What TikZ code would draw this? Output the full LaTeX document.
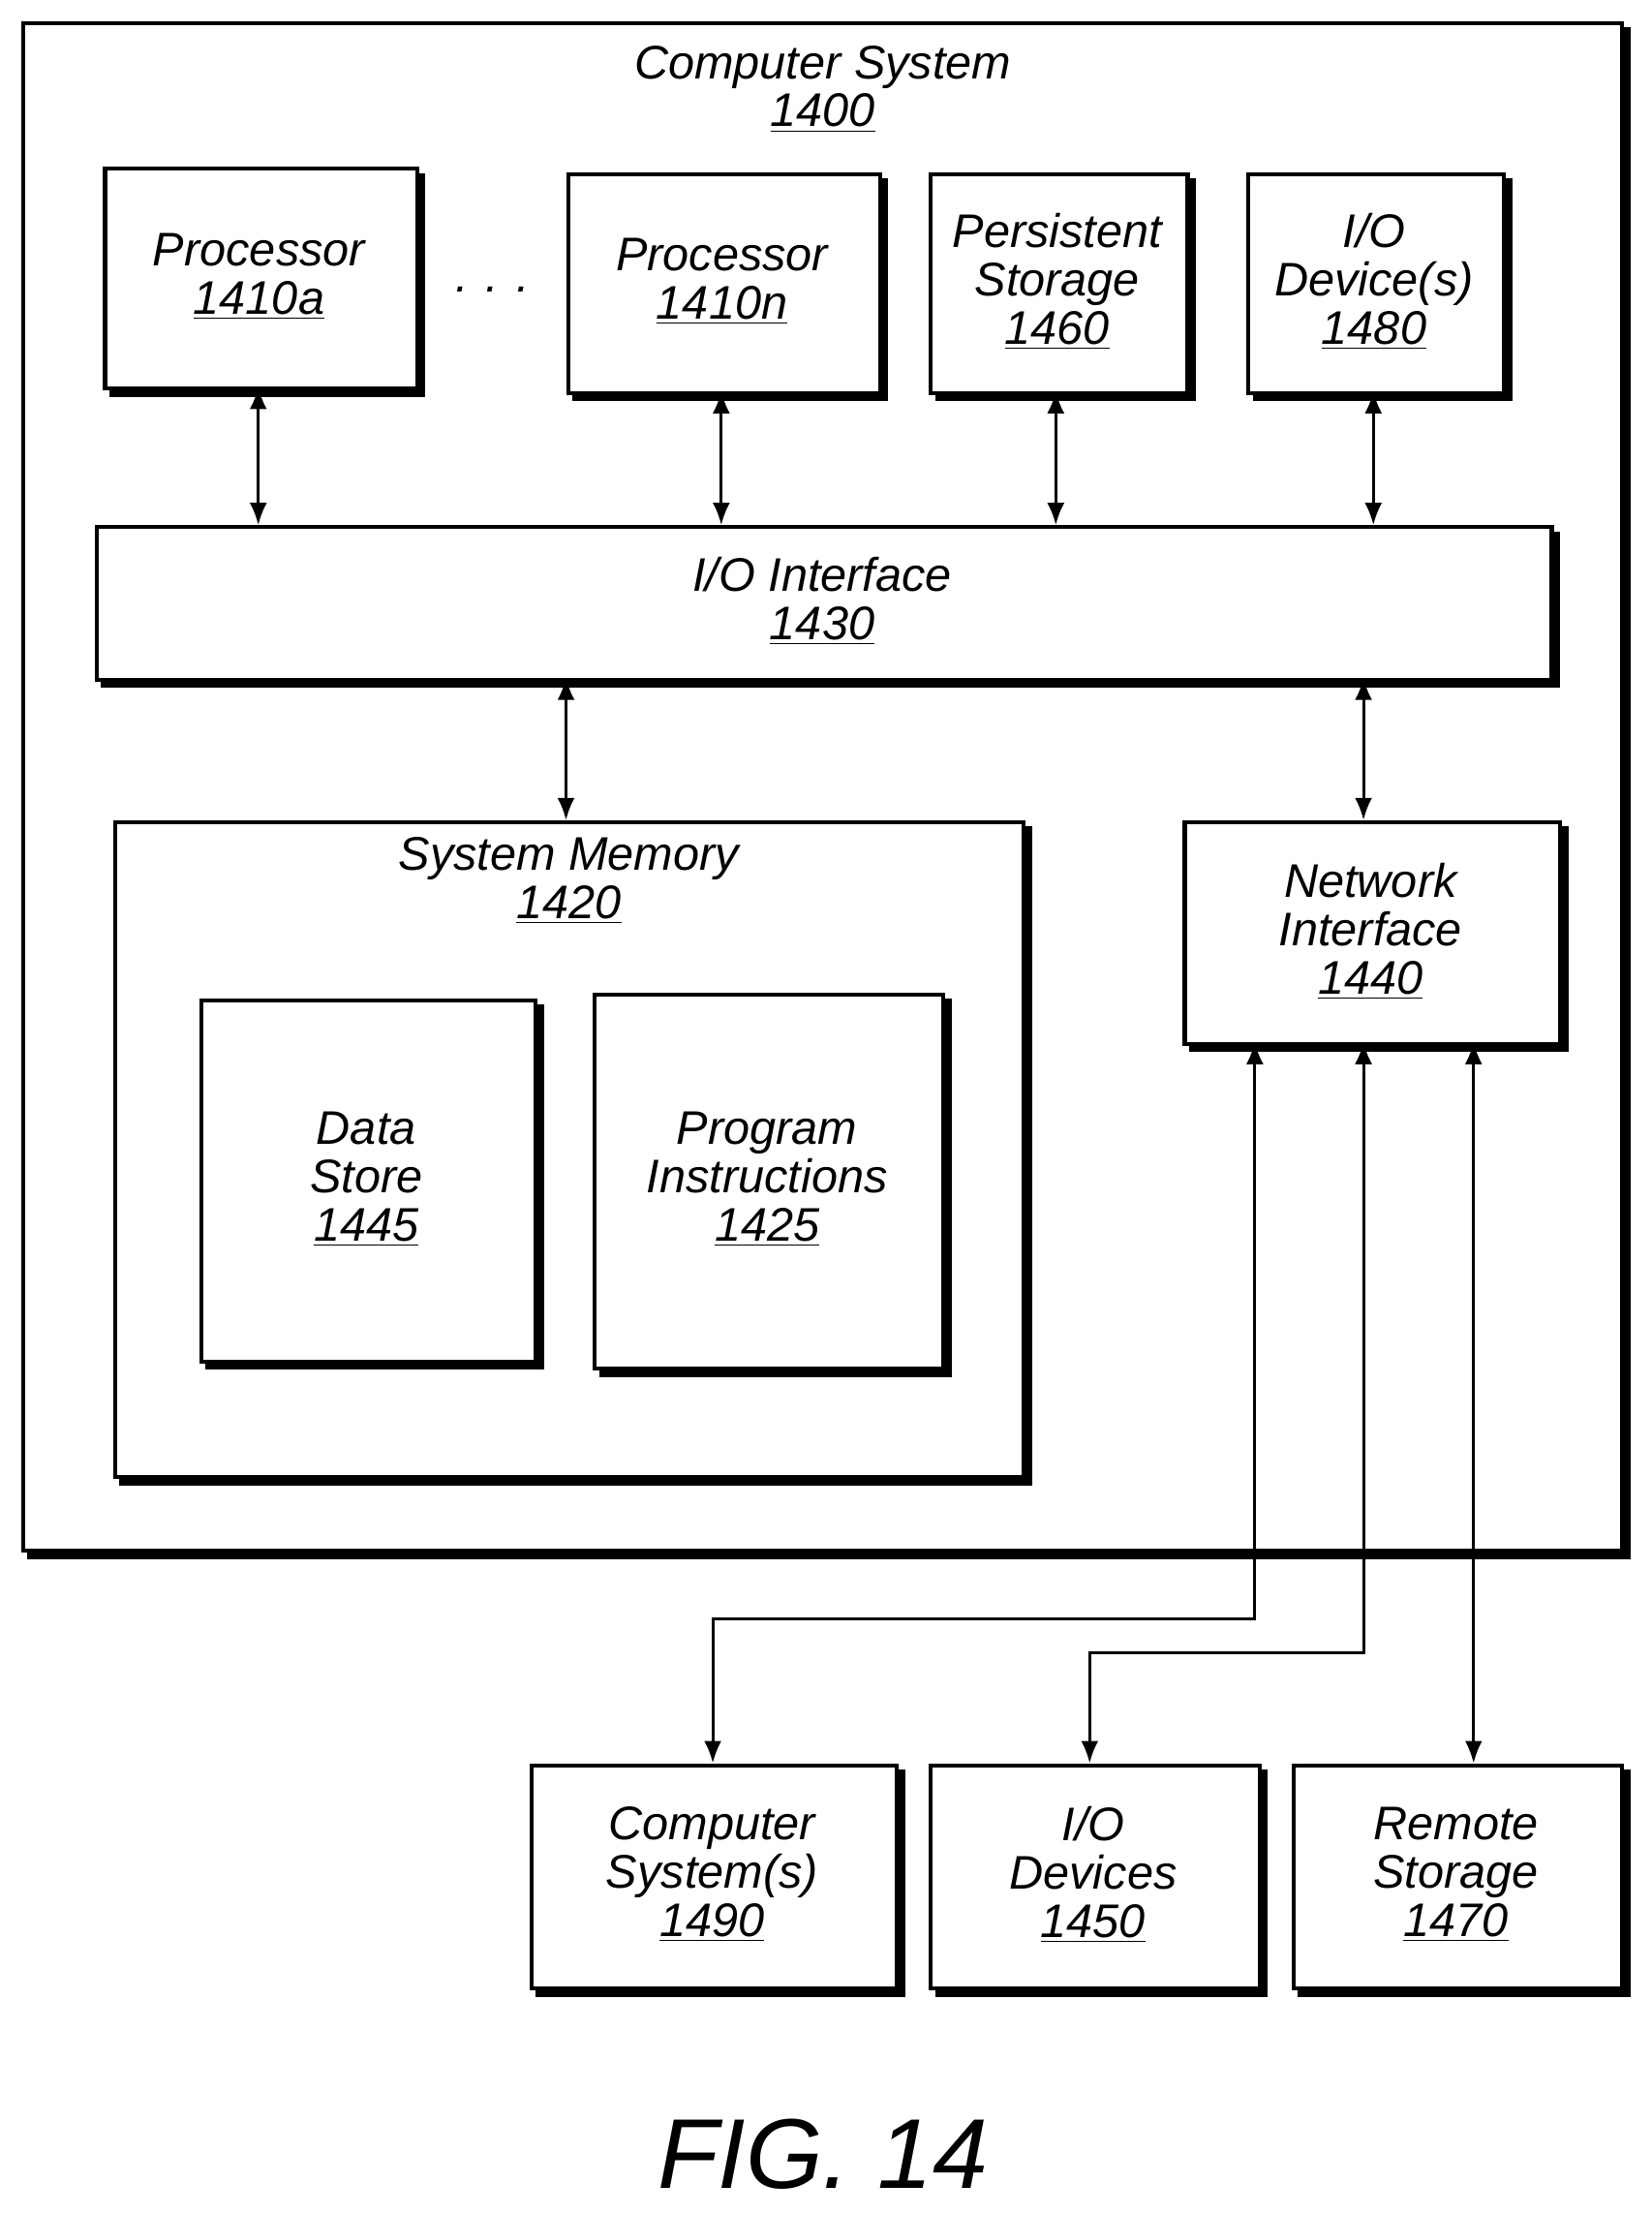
\documentclass[tikz,border=0pt]{standalone}
\usepackage{fontspec}
\setmainfont{Liberation Sans}
\usetikzlibrary{shadows,arrows.meta}
\begin{document}
\begin{tikzpicture}[x=0.02cm,y=-0.02cm,
  bx/.style={draw,line width=1.6pt,fill=white,anchor=north west,inner sep=0pt,
    copy shadow={shadow xshift=0.09cm,shadow yshift=-0.09cm,fill=black,draw=black,line width=1.6pt},
    font=\fontsize{19}{19.5}\selectfont\itshape,align=center},
  lbl/.style={font=\fontsize{19}{19.5}\selectfont\itshape,align=center},
  con/.style={line width=1.2pt,{Latex[length=9pt,width=7pt]}-{Latex[length=9pt,width=7pt]}}]
\useasboundingbox (0,0) rectangle (1170,1569);
\newcommand\mybox[6]{\node[bx,minimum width={(#4-#2)*0.02cm},minimum height={(#5-#3)*0.02cm}] (#1) at (#2,#3) {};
  \node[lbl] at ({(#2+#4)/2},{(#3+#5)/2}) {#6};}
\mybox{cs}{15}{15}{1148}{1097}{}
\node[lbl] at (583,63) {Computer System\\\underline{1400}};
\mybox{pa}{73}{118}{294}{274}{Processor\\\underline{1410a}}
\node[lbl] at (349,205) {. . .};
\mybox{pn}{401}{122}{622}{277}{Processor\\\underline{1410n}}
\mybox{ps}{658}{122}{840}{277}{Persistent\\Storage\\\underline{1460}}
\mybox{iod}{883}{122}{1064}{277}{I/O\\Device(s)\\\underline{1480}}
\mybox{ioi}{67}{372}{1098}{480}{I/O Interface\\\underline{1430}}
\mybox{sm}{80}{581}{724}{1045}{}
\node[lbl] at (403,624) {System Memory\\\underline{1420}};
\mybox{ds}{141}{707}{378}{963}{Data\\Store\\\underline{1445}}
\mybox{pi}{420}{703}{667}{968}{Program\\Instructions\\\underline{1425}}
\mybox{ni}{838}{581}{1104}{738}{Network\\Interface\\\underline{1440}}
\mybox{c90}{375}{1249}{634}{1407}{Computer\\System(s)\\\underline{1490}}
\mybox{i50}{658}{1249}{891}{1407}{I/O\\Devices\\\underline{1450}}
\mybox{r70}{915}{1249}{1148}{1407}{Remote\\Storage\\\underline{1470}}
\node[font=\fontsize{40}{44}\selectfont\itshape] (fig) at (583,1526) {FIG. 14};
\draw[con] (183,274) -- (183,372);
\draw[con] (511,277) -- (511,372);
\draw[con] (748,277) -- (748,372);
\draw[con] (973,277) -- (973,372);
\draw[con] (401,480) -- (401,581);
\draw[con] (966,480) -- (966,581);
\draw[con] (889,738) -- (889,1147) -- (505,1147) -- (505,1249);
\draw[con] (966,738) -- (966,1171) -- (772,1171) -- (772,1249);
\draw[con] (1044,738) -- (1044,1249);
\end{tikzpicture}
\end{document}
